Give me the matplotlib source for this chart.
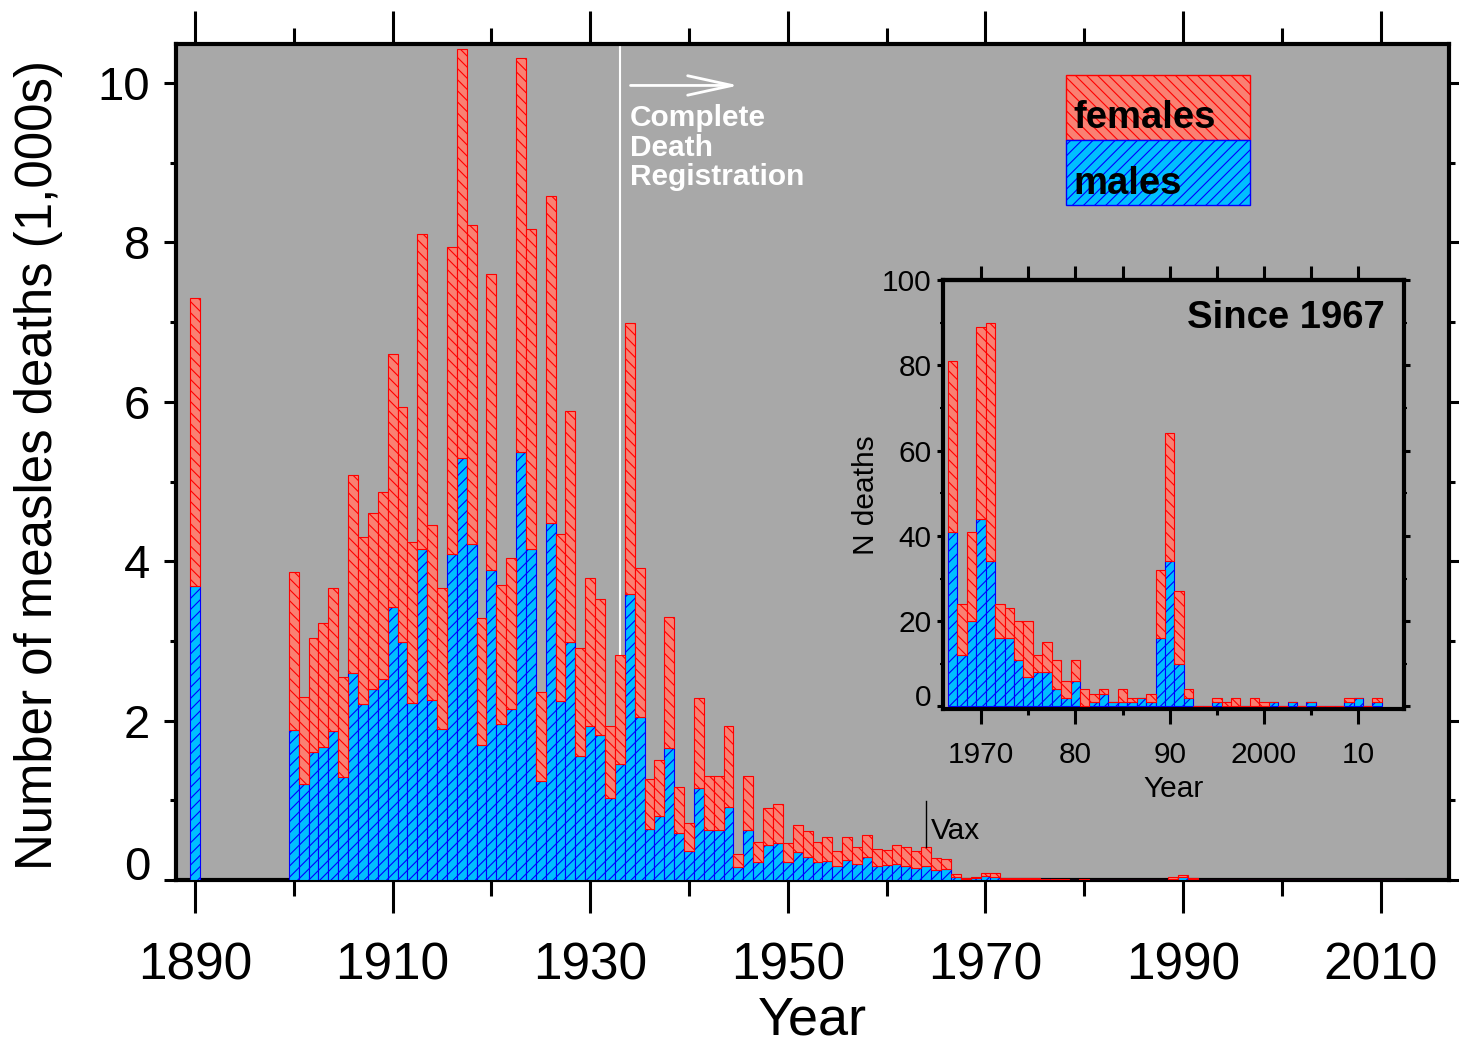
import numpy as np
import matplotlib
matplotlib.use("Agg")
import matplotlib.pyplot as plt
from matplotlib.patches import Rectangle
from matplotlib.ticker import FixedLocator, MultipleLocator

plt.rcParams['font.family'] = ['Liberation Sans', 'DejaVu Sans']
plt.rcParams['hatch.linewidth'] = 0.8

# measles deaths in thousands, 1890 and 1900-1966
early_years = [1890] + list(range(1900, 1967))
early_males = [3.69,
               1.88, 1.20, 1.60, 1.67, 1.87, 1.29, 2.60, 2.21, 2.40, 2.52,
               3.42, 2.99, 2.22, 4.15, 2.26, 1.90, 4.09, 5.29, 4.22, 1.70,
               3.89, 1.96, 2.14, 5.37, 4.15, 1.24, 4.48, 2.24, 2.99, 1.55,
               1.93, 1.82, 1.03, 1.45, 3.59, 2.04, 0.64, 0.80, 1.66, 0.59,
               0.36, 1.15, 0.63, 0.63, 0.92, 0.16, 0.63, 0.22, 0.44, 0.46,
               0.23, 0.35, 0.29, 0.23, 0.24, 0.17, 0.25, 0.20, 0.29, 0.17,
               0.19, 0.20, 0.17, 0.15, 0.18, 0.12, 0.14]
early_females = [3.61,
                 1.98, 1.09, 1.44, 1.55, 1.79, 1.26, 2.48, 2.09, 2.21, 2.35,
                 3.18, 2.94, 2.02, 3.96, 2.20, 1.76, 3.85, 5.14, 4.00, 1.59,
                 3.71, 1.74, 1.90, 4.94, 4.02, 1.12, 4.10, 2.10, 2.90, 1.36,
                 1.86, 1.71, 0.90, 1.37, 3.40, 1.87, 0.63, 0.70, 1.64, 0.58,
                 0.35, 1.13, 0.67, 0.67, 1.01, 0.16, 0.68, 0.26, 0.46, 0.49,
                 0.24, 0.34, 0.33, 0.25, 0.30, 0.19, 0.29, 0.21, 0.28, 0.22,
                 0.19, 0.24, 0.24, 0.21, 0.24, 0.16, 0.12]

# individual deaths since 1967
recent_years = list(range(1967, 2013))
recent_males = [41, 12, 20, 44, 34, 16, 16, 11, 7, 8,
                8, 4, 2, 6, 0, 1, 3, 1, 1, 1,
                2, 1, 16, 34, 10, 2, 0, 0, 1, 0,
                0, 0, 0, 0, 1, 0, 1, 0, 1, 0,
                0, 0, 1, 2, 0, 1]
recent_females = [40, 12, 21, 45, 56, 8, 7, 9, 13, 4,
                  7, 7, 4, 5, 4, 2, 1, 0, 3, 1,
                  0, 2, 16, 30, 17, 2, 0, 0, 1, 1,
                  2, 0, 2, 1, 0, 0, 0, 0, 0, 0,
                  0, 0, 1, 0, 0, 1]

inset_ticks = [1970, 1980, 1990, 2000, 2010]
inset_ticklabels = ['1970', '80', '90', '2000', '10']

REG_YEAR = 1933
VAX_YEAR = 1964

F_FACE, F_EDGE = '#fa8072', '#ff0000'
M_FACE, M_EDGE = '#00bfff', '#0000ff'
BG = '#a8a8a8'
F_HATCH, M_HATCH = '\\\\\\', '///'

years = np.array(early_years + recent_years)
males = np.array(early_males + [m / 1000 for m in recent_males])
females = np.array(early_females + [f / 1000 for f in recent_females])

fig = plt.figure(figsize=(14.59, 10.43), dpi=100)

# ---- main panel ----
ax = fig.add_axes([0.1206, 0.1563, 0.8725, 0.8015])
ax.set_facecolor(BG)
ax.bar(years, males, width=1, facecolor=M_FACE, edgecolor=M_EDGE,
       hatch=M_HATCH, lw=0.8, zorder=3)
ax.bar(years, females, bottom=males, width=1, facecolor=F_FACE,
       edgecolor=F_EDGE, hatch=F_HATCH, lw=0.8, zorder=3)

ax.set_xlim(1888.08, 2016.9)
ax.set_ylim(0, 10.49)

# registration line + arrow
ax.axvline(REG_YEAR, color='white', lw=1.5, zorder=1)
ax.annotate('', xy=(REG_YEAR + 12.3, 9.97), xytext=(REG_YEAR + 0.8, 9.97),
            arrowprops=dict(arrowstyle='->,head_length=1.6,head_width=0.35',
                            color='white', lw=2, mutation_scale=20))
ax.text(REG_YEAR + 1.0, 9.74, 'Complete\nDeath\nRegistration', color='white',
        fontsize=21.5, fontweight='bold', ha='left', va='top', linespacing=1.08)

# vaccine marker
vi = list(years).index(VAX_YEAR)
ax.plot([VAX_YEAR, VAX_YEAR], [males[vi] + females[vi], 0.99],
        color='black', lw=1, zorder=4)
ax.text(VAX_YEAR + 0.45, 0.62, 'Vax', fontsize=21.5, ha='left', va='center')

# legend boxes
ax.add_patch(Rectangle((0.699, 0.885), 0.1447, 0.078, transform=ax.transAxes,
                       facecolor=F_FACE, edgecolor=F_EDGE, hatch=F_HATCH,
                       lw=1, zorder=5))
ax.add_patch(Rectangle((0.699, 0.807), 0.1447, 0.078, transform=ax.transAxes,
                       facecolor=M_FACE, edgecolor=M_EDGE, hatch=M_HATCH,
                       lw=1, zorder=5))
ax.text(0.7046, 0.911, 'females', transform=ax.transAxes, fontsize=27.5,
        fontweight='bold', va='center', ha='left', zorder=6)
ax.text(0.7046, 0.833, 'males', transform=ax.transAxes, fontsize=27.5,
        fontweight='bold', va='center', ha='left', zorder=6)

ax.xaxis.set_major_locator(FixedLocator(range(1890, 2020, 20)))
ax.xaxis.set_minor_locator(FixedLocator(range(1900, 2020, 20)))
ax.set_yticks(range(0, 11, 2))
ax.yaxis.set_minor_locator(MultipleLocator(1))
ax.tick_params(axis='x', which='major', direction='out', length=24, width=2.2,
               top=True, labelsize=37, pad=20)
ax.tick_params(axis='x', which='minor', direction='out', length=11.5,
               width=2.2, top=True)
ax.tick_params(axis='y', which='major', direction='out', length=8.5, width=2.2,
               right=True, labelsize=34, pad=10)
ax.tick_params(axis='y', which='minor', direction='out', length=4.5,
               width=2.2, right=True)
ax.get_yticklabels()[0].set_verticalalignment('baseline')
for s in ax.spines.values():
    s.set_linewidth(3)

ax.set_xlabel('Year', fontsize=39)
ax.xaxis.set_label_coords(0.5, -0.138)
ax.set_ylabel('Number of measles deaths (1,000s)', fontsize=36.7)
ax.yaxis.set_label_coords(-0.089, 0.497)

# ---- inset: since 1967 ----
axin = fig.add_axes([0.6463, 0.3202, 0.3160, 0.4114])
axin.set_facecolor(BG)
axin.bar(recent_years, recent_males, width=1, facecolor=M_FACE,
         edgecolor=M_EDGE, hatch=M_HATCH, lw=0.8, zorder=3)
axin.bar(recent_years, recent_females, bottom=recent_males, width=1,
         facecolor=F_FACE, edgecolor=F_EDGE, hatch=F_HATCH, lw=0.8, zorder=3)
axin.set_xlim(1965.96, 2014.85)
axin.set_ylim(-0.6, 100)

axin.set_xticks(inset_ticks)
axin.set_xticklabels(inset_ticklabels)
axin.xaxis.set_minor_locator(FixedLocator(range(1975, 2010, 10)))
axin.set_yticks(range(0, 101, 20))
axin.yaxis.set_minor_locator(MultipleLocator(10))
axin.tick_params(axis='x', which='major', direction='out', length=11,
                 width=2.2, labelsize=21.5, pad=12)
axin.tick_params(axis='x', which='minor', direction='out', length=4.5,
                 width=2.2)
axin.tick_params(axis='y', which='major', direction='out', length=4,
                 width=2.2, right=True, labelsize=21.5, pad=4)
axin.tick_params(axis='y', which='minor', direction='out', length=2,
                 width=1.5, right=True)
axin.get_yticklabels()[0].set_verticalalignment('baseline')
for s in axin.spines.values():
    s.set_linewidth(3)

sec = axin.secondary_xaxis('top')
sec.set_xticks(range(1970, 2015, 5))
sec.tick_params(direction='out', length=10, width=2.2, labeltop=False)
sec.spines['top'].set_linewidth(3)

axin.set_xlabel('Year', fontsize=21.5)
axin.xaxis.set_label_coords(0.501, -0.154)
axin.set_ylabel('N deaths', fontsize=21.5)
axin.yaxis.set_label_coords(-0.137, 0.499)
axin.text(0.959, 0.911, 'Since 1967', transform=axin.transAxes, ha='right',
          va='center', fontsize=27.5, fontweight='bold')

fig.savefig('out.png', dpi=100)
